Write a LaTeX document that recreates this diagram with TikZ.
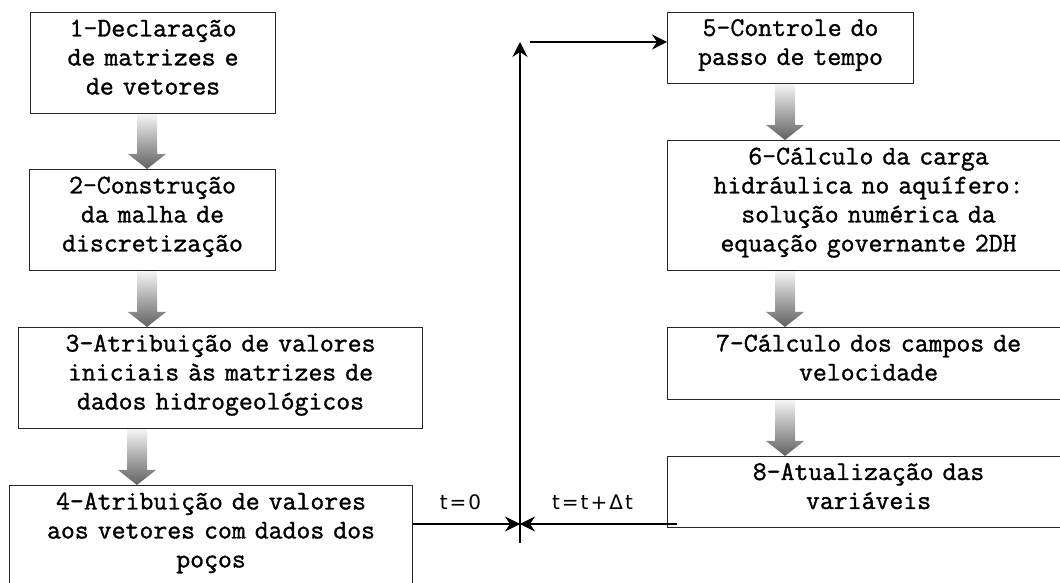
\documentclass[tikz,border=0pt]{standalone}
\usepackage{fontspec}
\usetikzlibrary{arrows.meta,calc}
\newfontfamily\caixafont[FakeBold=1.2]{Latin Modern Mono}
\newfontfamily\rotulofont[LetterSpace=10]{DejaVu Sans}
\newcommand{\setabloco}[3]{%
	\shade[top color=black!4, bottom color=black!62]
		let \p1=(#2.south), \p2=(#3.north) in
		(#1-10,\y1) -- (#1+10,\y1) -- (#1+10,\y2+15) -- (#1+19,\y2+15)
		-- (#1,\y2) -- (#1-19,\y2+15) -- (#1-10,\y2+15) -- cycle;
}
\tikzset{
	caixa/.style={draw=black!85, line width=1.1pt, anchor=north west, align=center,
		inner xsep=0pt, inner ysep=0pt, font=\caixafont\fontsize{27}{29}\selectfont,
		execute at end node={\rule[-12pt]{0pt}{0pt}}},
	seta/.style={-{Stealth[length=15pt,width=15pt,inset=5pt]}, line width=1.2pt},
	rotulo/.style={font=\rotulofont\fontsize{20}{22}\selectfont, inner sep=0pt}
}
\begin{document}
\begin{tikzpicture}[x=1pt,y=1pt]
	\useasboundingbox (0,0) rectangle (1060,583);
	\clip (0,0) rectangle (1060,583);
	
	\node[caixa, text width=245pt, minimum height=101pt] (c1) at (30,571) {1-Declaração\\de matrizes e\\de vetores};
	\node[caixa, text width=246pt, minimum height=101pt] (c2) at (29,414) {2-Construção\\da malha de\\discretização};
	\node[caixa, text width=404pt, minimum height=101pt] (c3) at (18,256) {3-Atribuição de valores\\iniciais às matrizes de\\dados hidrogeológicos};
	\node[caixa, text width=403pt, minimum height=101pt] (c4) at (9,98) {4-Atribuição de valores\\aos vetores com dados dos\\poços};
	\node[caixa, text width=246pt, minimum height=71pt] (c5) at (667,571) {5-Controle do\\passo de tempo};
	\node[caixa, text width=402pt, minimum height=130pt] (c6) at (667,443) {6-Cálculo da carga\\hidráulica no aquífero:\\solução numérica da\\equação governante 2DH};
	\node[caixa, text width=402pt, minimum height=72pt] (c7) at (667,256) {7-Cálculo dos campos de\\velocidade};
	\node[caixa, text width=402pt, minimum height=71pt] (c8) at (667,127) {8-Atualização das\\variáveis};
	
	\setabloco{147}{c1}{c2}
	\setabloco{147}{c2}{c3}
	\setabloco{137}{c3}{c4}
	\setabloco{785}{c5}{c6}
	\setabloco{785}{c6}{c7}
	\setabloco{785}{c7}{c8}
	
	\coordinate (baixo) at (520,40);
	\coordinate (topo) at (520,541);
	\coordinate (saida) at (530,541);
	\coordinate (juncao) at (520,59);
	\draw[seta] (baixo) -- (topo);
	\draw[seta] (saida) -- (saida -| c5.west);
	\draw[seta] (juncao -| c4.east) -- node[rotulo, above=14pt, xshift=-6pt] (t0) {t=0} (juncao);
	\draw[seta] ($(juncao -| c8.west)+(10,0)$) -- node[rotulo, above=14pt, xshift=-6pt] (tdt) {t=t+Δt} (juncao);
\end{tikzpicture}
\end{document}
